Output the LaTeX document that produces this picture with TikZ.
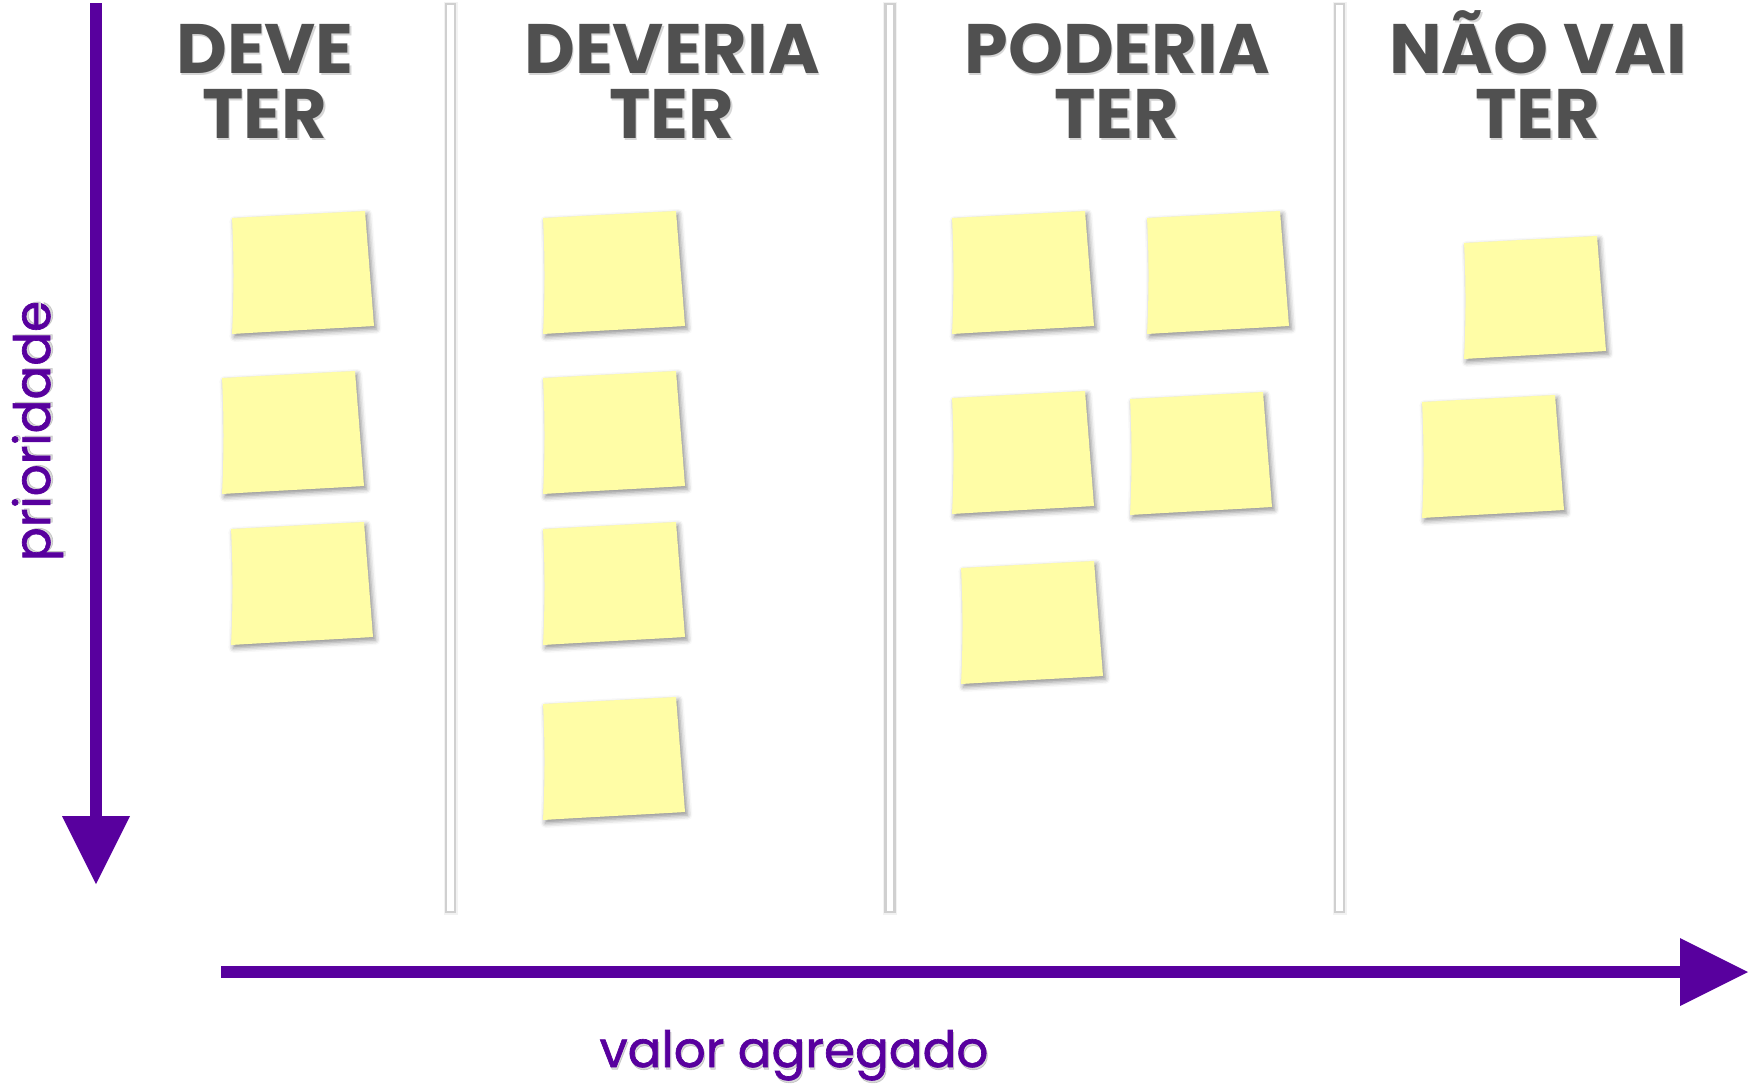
\documentclass[tikz,border=0pt]{standalone}
\usepackage{fontspec}
\setmainfont{Poppins}
\newfontfamily\labelfont{Poppins}[FakeBold=1.3]
\usetikzlibrary{arrows.meta,shadows.blur}
\definecolor{axis}{RGB}{88,0,158}
\definecolor{titlegray}{RGB}{80,80,80}
\definecolor{notefill}{RGB}{255,253,166}
\definecolor{divline}{RGB}{208,208,208}
\tikzset{
  titletext/.style={font=\fontsize{35}{35}\selectfont\bfseries, text=titlegray, anchor=base, inner sep=0pt, text height=25pt, text depth=0pt},
  titleshadow/.style={titletext, text=black, opacity=0.16},
  axislabel/.style={font=\fontsize{25}{25}\selectfont\labelfont, text=axis, anchor=base, inner sep=0pt},
  labelshadow/.style={axislabel, text=black, opacity=0.15},
  axisarrow/.style={draw=axis, line width=6pt, -{Triangle[length=34pt,width=34pt,line width=0pt]}},
  postit/.pic={
    \fill[notefill, blur shadow={shadow xshift=1.2pt, shadow yshift=-1.5pt, shadow blur radius=2.5pt, shadow opacity=45}]
      (0,0) -- (133,-7) -- (142,108) .. controls (100,110.5) and (40,113.5) .. (0,116)
      .. controls (2,80) and (2,35) .. cycle;
  },
  divider/.pic={
    \fill[black!5] (-7,2) rectangle (7,915);
    \draw[divline, line width=1.1pt, fill=white] (-4.5,4) rectangle (4.5,912);
  }
}
\newcommand\titleline[4]{%
  \node[titleshadow, xshift=0.6pt, yshift=-1.4pt] at (#2,#3) {#4};
  \node[titletext] (#1) at (#2,#3) {#4};}
\begin{document}
\begin{tikzpicture}[x=0.5pt,y=-0.5pt]
\useasboundingbox (0,0) rectangle (1749,1087);
% dividers
\pic (d1) at (450.5,0) {divider};
\pic (d2) at (890,0) {divider};
\pic (d3) at (1339.5,0) {divider};
% titles
\titleline{t1a}{265}{73}{DEVE}
\titleline{t1b}{265}{138}{TER}
\titleline{t2a}{672}{73}{DEVERIA}
\titleline{t2b}{672}{138}{TER}
\titleline{t3a}{1117}{73}{PODERIA}
\titleline{t3b}{1117}{138}{TER}
\titleline{t4a}{1538}{73}{NÃO VAI}
\titleline{t4b}{1538}{138}{TER}
% sticky notes
\pic (n11) at (232,218) {postit};
\pic (n12) at (222,378) {postit};
\pic (n13) at (231,529) {postit};
\pic (n21) at (543,218) {postit};
\pic (n22) at (543,378) {postit};
\pic (n23) at (543,529) {postit};
\pic (n24) at (543,704) {postit};
\pic (n31) at (952,218) {postit};
\pic (n32) at (1147,218) {postit};
\pic (n33) at (952,398) {postit};
\pic (n34) at (1130,399) {postit};
\pic (n35) at (961,568) {postit};
\pic (n41) at (1464,243) {postit};
\pic (n42) at (1422,402) {postit};
% axes
\coordinate (vtop) at (96,3);
\coordinate (vtip) at (96,884);
\coordinate (hstart) at (221,972);
\coordinate (htip) at (1748,972);
\draw[axisarrow] (vtop) -- (vtip);
\draw[axisarrow] (hstart) -- (htip);
% axis labels
\node[labelshadow, xshift=0.6pt, yshift=-1.2pt] at (794,1067) {valor agregado};
\node[axislabel] (hlabel) at (794,1067) {valor agregado};
\node[labelshadow, rotate=90, xshift=0.6pt, yshift=-1.2pt] at (50,431) {prioridade};
\node[axislabel, rotate=90] (vlabel) at (50,431) {prioridade};
\end{tikzpicture}
\end{document}
